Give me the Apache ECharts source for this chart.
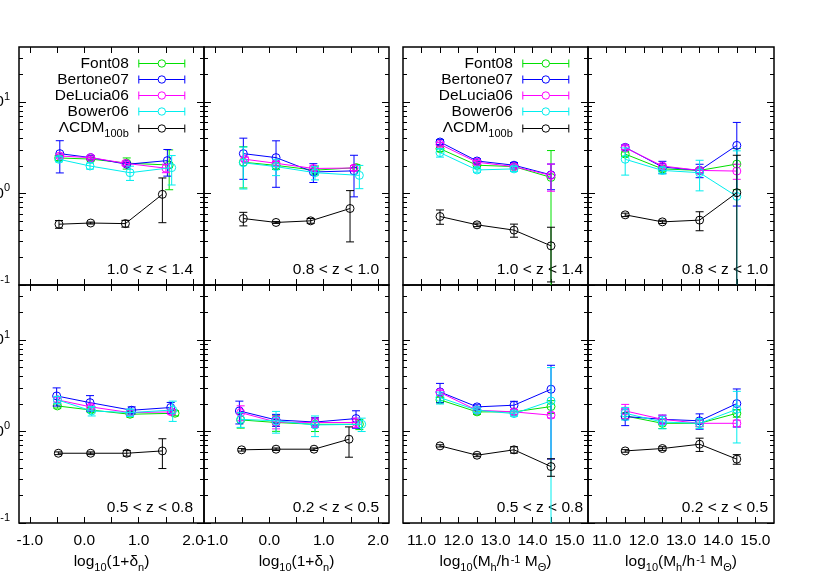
<!DOCTYPE html>
<html><head><meta charset="utf-8">
<script src="https://cdn.jsdelivr.net/npm/echarts@6/dist/echarts.min.js"></script>
<style>html,body{margin:0;padding:0;background:#fff}#c{width:817px;height:572px}</style>
</head><body><div id="c"></div>
<script>
// ---------------- data ----------------
const models = ['Font08', 'Bertone07', 'DeLucia06', 'Bower06', 'ΛCDM100b'];
const colors = ['#00e000', '#0000ff', '#ff00ff', '#00eeee', '#000000'];
const panelLabels = ['1.0 < z < 1.4', '0.8 < z < 1.0', '1.0 < z < 1.4', '0.8 < z < 1.0',
                     '0.5 < z < 0.8', '0.2 < z < 0.5', '0.5 < z < 0.8', '0.2 < z < 0.5'];
const densTicks = [-1, -0.5, 0, 0.5, 1, 1.5, 2];
const densLabels = [-1, 0, 1, 2];
const massTicks = [11, 11.5, 12, 12.5, 13, 13.5, 14, 14.5, 15];
const massLabels = [11, 12, 13, 14, 15];
const yMajor = [0.1, 1, 10];
const yMinor = [0.2, 0.3, 0.4, 0.5, 0.6, 0.7, 0.8, 0.9, 2, 3, 4, 5, 6, 7, 8, 9, 20, 30];

// each point: [x, y, dy]
// panel 1: 1.0<z<1.4, density
const p1_Font08    = [[-0.47, 2.45, 0.15], [0.117, 2.38, 0.1], [0.78, 2.15, 0.3], [1.56, 2.05, 0.95]];
const p1_Bertone07 = [[-0.45, 2.73, 1.05], [0.117, 2.47, 0.12], [0.78, 2.09, 0.1], [1.527, 2.29, 0.74]];
const p1_DeLucia06 = [[-0.45, 2.57, 0.12], [0.117, 2.47, 0.1], [0.76, 2.14, 0.12], [1.5, 1.89, 0.2]];
const p1_Bower06   = [[-0.465, 2.37, 0.15], [0.105, 2.0, 0.15], [0.84, 1.69, 0.3], [1.606, 1.92, 0.68]];
const p1_LCDM      = [[-0.465, 0.462, 0.045], [0.117, 0.476, 0.012], [0.755, 0.469, 0.04], [1.435, 0.98, 0.5]];
// panel 2: 0.8<z<1.0, density
const p2_Font08    = [[-0.477, 2.20, 1.05], [0.124, 2.03, 0.2], [0.84, 1.8, 0.2], [1.6, 1.92, 0.15]];
const p2_Bertone07 = [[-0.477, 2.73, 1.3], [0.124, 2.47, 1.3], [0.81, 1.72, 0.4], [1.557, 1.77, 0.85]];
const p2_DeLucia06 = [[-0.45, 2.37, 0.12], [0.124, 2.14, 0.1], [0.81, 1.88, 0.12], [1.557, 1.9, 0.12]];
const p2_Bower06   = [[-0.477, 2.17, 1.05], [0.124, 1.97, 0.4], [0.84, 1.69, 0.28], [1.655, 1.58, 0.45]];
const p2_LCDM      = [[-0.477, 0.533, 0.09], [0.124, 0.483, 0.012], [0.761, 0.503, 0.03], [1.484, 0.686, 0.39]];
// panel 3: 1.0<z<1.4, halo mass
const p3_Font08    = [[11.5, 3.09, 0.2], [12.5, 2.04, 0.1], [13.5, 1.97, 0.12], [14.5, 1.5, 1.45]];
const p3_Bertone07 = [[11.5, 3.66, 0.22], [12.5, 2.27, 0.12], [13.5, 2.04, 0.14], [14.5, 1.6, 0.5]];
const p3_DeLucia06 = [[11.5, 3.45, 0.15], [12.5, 2.2, 0.1], [13.5, 1.97, 0.1], [14.5, 1.58, 0.52]];
const p3_Bower06   = [[11.5, 2.80, 0.3], [12.5, 1.81, 0.1], [13.5, 1.86, 0.12]];
const p3_LCDM      = [[11.5, 0.561, 0.1], [12.5, 0.455, 0.02], [13.5, 0.398, 0.065], [14.5, 0.268, 0.16]];
// panel 4: 0.8<z<1.0, halo mass
const p4_Font08    = [[11.5, 2.70, 0.15], [12.5, 1.86, 0.1], [13.5, 1.79, 0.1], [14.5, 2.1, 1.0]];
const p4_Bertone07 = [[11.5, 3.2, 0.2], [12.5, 1.95, 0.3], [13.5, 1.79, 0.3], [14.5, 3.36, 2.63]];
const p4_DeLucia06 = [[11.5, 3.17, 0.15], [12.5, 2.0, 0.1], [13.5, 1.79, 0.1], [14.5, 1.76, 0.33]];
const p4_Bower06   = [[11.5, 2.37, 0.78], [12.5, 1.79, 0.15], [13.5, 1.69, 0.62], [14.5, 0.93, 2.0]];
const p4_LCDM      = [[11.5, 0.585, 0.025], [12.5, 0.49, 0.02], [13.5, 0.512, 0.12], [14.5, 1.02, 1.6]];
// panel 5: 0.5<z<0.8, density
const p5_Font08    = [[-0.495, 1.905, 0.1], [0.117, 1.72, 0.1], [0.84, 1.545, 0.1], [1.668, 1.585, 0.1]];
const p5_Bertone07 = [[-0.508, 2.45, 0.55], [0.105, 2.07, 0.4], [0.871, 1.71, 0.15], [1.588, 1.83, 0.25]];
const p5_DeLucia06 = [[-0.495, 2.22, 0.12], [0.117, 1.86, 0.1], [0.84, 1.61, 0.1], [1.6, 1.64, 0.1]];
const p5_Bower06   = [[-0.495, 2.22, 0.2], [0.136, 1.68, 0.2], [0.84, 1.61, 0.15], [1.625, 1.72, 0.43]];
const p5_LCDM      = [[-0.477, 0.579, 0.02], [0.117, 0.579, 0.02], [0.78, 0.579, 0.04], [1.435, 0.614, 0.22]];
// panel 6: 0.2<z<0.5, density
const p6_Font08    = [[-0.526, 1.34, 0.25], [0.124, 1.255, 0.25], [0.84, 1.2, 0.2], [1.655, 1.2, 0.15]];
const p6_Bertone07 = [[-0.55, 1.68, 0.47], [0.124, 1.34, 0.2], [0.84, 1.27, 0.15], [1.594, 1.386, 0.3]];
const p6_DeLucia06 = [[-0.526, 1.61, 0.3], [0.124, 1.27, 0.2], [0.84, 1.255, 0.15], [1.594, 1.255, 0.15]];
const p6_Bower06   = [[-0.526, 1.36, 0.25], [0.124, 1.31, 0.35], [0.84, 1.18, 0.3], [1.698, 1.2, 0.2]];
const p6_LCDM      = [[-0.508, 0.631, 0.02], [0.124, 0.641, 0.02], [0.822, 0.641, 0.02], [1.465, 0.824, 0.3]];
// panel 7: 0.5<z<0.8, halo mass
const p7_Font08    = [[11.5, 2.22, 0.15], [12.5, 1.64, 0.1], [13.5, 1.64, 0.1], [14.5, 1.875, 0.3]];
const p7_Bertone07 = [[11.5, 2.71, 0.65], [12.5, 1.86, 0.1], [13.5, 1.94, 0.2], [14.5, 2.90, 2.4]];
const p7_DeLucia06 = [[11.5, 2.67, 0.15], [12.5, 1.71, 0.1], [13.5, 1.64, 0.1], [14.5, 1.51, 0.1]];
const p7_Bower06   = [[11.5, 2.35, 0.35], [12.5, 1.71, 0.1], [13.5, 1.57, 0.1], [14.5, 2.16, 2.84]];
const p7_LCDM      = [[11.5, 0.697, 0.02], [12.5, 0.551, 0.02], [13.5, 0.631, 0.05], [14.5, 0.414, 0.09]];
// panel 8: 0.2<z<0.5, halo mass
const p8_Font08    = [[11.5, 1.48, 0.1], [12.5, 1.23, 0.15], [13.5, 1.23, 0.1], [14.5, 1.585, 0.15]];
const p8_Bertone07 = [[11.5, 1.46, 0.3], [12.5, 1.36, 0.15], [13.5, 1.31, 0.25], [14.5, 2.02, 0.9]];
const p8_DeLucia06 = [[11.5, 1.68, 0.3], [12.5, 1.36, 0.15], [13.5, 1.23, 0.1], [14.5, 1.23, 0.1]];
const p8_Bower06   = [[11.5, 1.585, 0.25], [12.5, 1.27, 0.2], [13.5, 1.23, 0.15], [14.5, 1.75, 1.0]];
const p8_LCDM      = [[11.5, 0.614, 0.02], [12.5, 0.652, 0.03], [13.5, 0.726, 0.12], [14.5, 0.499, 0.06]];

const panelData = [
  [p1_Font08, p1_Bertone07, p1_DeLucia06, p1_Bower06, p1_LCDM],
  [p2_Font08, p2_Bertone07, p2_DeLucia06, p2_Bower06, p2_LCDM],
  [p3_Font08, p3_Bertone07, p3_DeLucia06, p3_Bower06, p3_LCDM],
  [p4_Font08, p4_Bertone07, p4_DeLucia06, p4_Bower06, p4_LCDM],
  [p5_Font08, p5_Bertone07, p5_DeLucia06, p5_Bower06, p5_LCDM],
  [p6_Font08, p6_Bertone07, p6_DeLucia06, p6_Bower06, p6_LCDM],
  [p7_Font08, p7_Bertone07, p7_DeLucia06, p7_Bower06, p7_LCDM],
  [p8_Font08, p8_Bertone07, p8_DeLucia06, p8_Bower06, p8_LCDM]
];

// ---------------- layout ----------------
const W = 817;
const FONT = "'Liberation Sans', Arial, Helvetica, sans-serif";
const FS = 15.5;
const layout = [
  {l: 19,  t: 47,  w: 185, h: 238, kind: 'd', yl: true,  xl: false, leg: true,  inset: 11},
  {l: 204, t: 47,  w: 185, h: 238, kind: 'd', yl: false, xl: false, leg: false, inset: 10},
  {l: 403, t: 47,  w: 185, h: 238, kind: 'm', yl: false, xl: false, leg: true,  inset: 5},
  {l: 588, t: 47,  w: 186, h: 238, kind: 'm', yl: false, xl: false, leg: false, inset: 6},
  {l: 19,  t: 285, w: 185, h: 238, kind: 'd', yl: true,  xl: true,  leg: false, inset: 11},
  {l: 204, t: 285, w: 185, h: 238, kind: 'd', yl: false, xl: true,  leg: false, inset: 10},
  {l: 403, t: 285, w: 185, h: 238, kind: 'm', yl: false, xl: true,  leg: false, inset: 5},
  {l: 588, t: 285, w: 186, h: 238, kind: 'm', yl: false, xl: true,  leg: false, inset: 6}
];
const densName = '{a|log}{s|10}{a|(1+δ}{s|n}{a|)}';
const massName = '{a|log}{s|10}{a|(M}{s|h}{a|/h}{p|-1}{a| M}{s|Θ}{a|)}';
const nameRich = {
  a: {fontSize: FS, fontFamily: FONT, color: '#000', lineHeight: 18, verticalAlign: 'top'},
  s: {fontSize: 11, fontFamily: FONT, color: '#000', lineHeight: 11, verticalAlign: 'top', padding: [8, 0, 0, 0]},
  p: {fontSize: 11, fontFamily: FONT, color: '#000', lineHeight: 11, verticalAlign: 'top', padding: [0, 0, 0, 1]}
};
const yRich = {
  b: {fontSize: FS, fontFamily: FONT, color: '#000', lineHeight: 22},
  s: {fontSize: 11, fontFamily: FONT, color: '#000', lineHeight: 11, verticalAlign: 'top'}
};
function yFmt(v) {
  if (v > 5) return '{b|10}{s|1}';
  if (v > 0.5) return '{b|10}{s|0}';
  return '{b|10}{s|-1}';
}

const grids = [], xAxes = [], yAxes = [], series = [], legends = [], graphics = [];

layout.forEach((p, i) => {
  grids.push({left: p.l, top: p.t, width: p.w, height: p.h, show: true, borderColor: '#000',
              borderWidth: 1.5, backgroundColor: 'transparent', containLabel: false, outerBoundsMode: 'none'});
  const isD = p.kind === 'd';
  ['bottom', 'top'].forEach(pos => {
    const showLab = pos === 'bottom' && p.xl;
    xAxes.push({
      type: 'value', gridIndex: i, position: pos,
      min: isD ? -1.2 : 10.5, max: isD ? 2.2 : 15.5,
      axisLine: {show: false, onZero: false}, splitLine: {show: false},
      axisTick: {show: true, inside: true, length: 6, customValues: isD ? densTicks : massTicks,
                 lineStyle: {color: '#000', width: 1}},
      axisLabel: {show: showLab, customValues: isD ? densLabels : massLabels,
                  formatter: v => v.toFixed(1), margin: 10, fontSize: FS, fontFamily: FONT, color: '#000'},
      name: showLab ? (isD ? densName : massName) : '',
      nameLocation: 'middle', nameGap: 31,
      nameTextStyle: {rich: nameRich, fontSize: FS, fontFamily: FONT, color: '#000'}
    });
  });
  [['left', true], ['left', false], ['right', true], ['right', false]].forEach(([pos, major]) => {
    yAxes.push({
      type: 'log', logBase: 10, gridIndex: i, position: pos, min: 0.1, max: 40,
      axisLine: {show: false, onZero: false}, splitLine: {show: false}, minorTick: {show: false},
      axisTick: {show: true, inside: true, length: major ? 7 : 4, customValues: major ? yMajor : yMinor,
                 lineStyle: {color: '#000', width: 1}},
      axisLabel: {show: major && pos === 'left' && p.yl, customValues: yMajor, formatter: yFmt,
                  margin: 9, rich: yRich, fontSize: FS, fontFamily: FONT, color: '#000'}
    });
  });

  panelData[i].forEach((pts, m) => {
    const col = colors[m];
    series.push({
      type: 'line', name: models[m], xAxisIndex: 2 * i, yAxisIndex: 4 * i,
      data: pts.map(d => [d[0], d[1]]), symbol: 'none', showSymbol: false, color: col,
      lineStyle: {color: col, width: 1}, itemStyle: {color: col, borderColor: col}, silent: true, z: 2 + m
    });
    series.push({
      type: 'custom', name: models[m], xAxisIndex: 2 * i, yAxisIndex: 4 * i,
      data: pts, encode: {x: 0, y: 1}, silent: true, z: 2 + m, color: col,
      renderItem: function (params, api) {
        const x = api.value(0), y = api.value(1), dy = api.value(2);
        const cs = params.coordSys;
        const top = cs.y, bot = cs.y + cs.height;
        const c = api.coord([x, y]);
        let yh = api.coord([x, y + dy])[1];
        let yl = (y - dy) > 0 ? api.coord([x, y - dy])[1] : Infinity;
        const capHi = yh >= top, capLo = yl <= bot;
        yh = Math.max(yh, top); yl = Math.min(yl, bot);
        const st = () => ({stroke: col, lineWidth: 1, fill: null});
        const ch = [{type: 'line', shape: {x1: c[0], y1: yh, x2: c[0], y2: yl}, style: st()}];
        if (capHi) ch.push({type: 'line', shape: {x1: c[0] - 4, y1: yh, x2: c[0] + 4, y2: yh}, style: st()});
        if (capLo) ch.push({type: 'line', shape: {x1: c[0] - 4, y1: yl, x2: c[0] + 4, y2: yl}, style: st()});
        ch.push({type: 'circle', shape: {cx: c[0], cy: c[1], r: 4}, style: {stroke: col, lineWidth: 1, fill: 'none'}});
        return {type: 'group', children: ch};
      }
    });
  });

  if (p.leg) {
    models.forEach((m, k) => {
      legends.push({
        data: [m], orient: 'horizontal', align: 'right', right: W - (p.l + 166.3),
        top: p.t + 8.5 + 16 * k, padding: 0, itemGap: 0, itemWidth: 46, itemHeight: 8,
        icon: 'path://M0 0L0 8M46 0L46 8M0 4L19.3 4M26.7 4L46 4M26.7 4A3.7 3.7 0 1 1 19.3 4A3.7 3.7 0 1 1 26.7 4',
        selectedMode: false,
        itemStyle: {color: 'rgba(0,0,0,0)', borderColor: colors[k], borderWidth: 1},
        formatter: n => n === 'ΛCDM100b' ? '{m|ΛCDM}{s|100b}' : n,
        textStyle: {fontSize: FS, fontFamily: FONT, color: '#000', padding: [0, 5, 0, 0],
                    rich: {
                      m: {fontSize: FS, fontFamily: FONT, color: '#000', lineHeight: 18, verticalAlign: 'top'},
                      s: {fontSize: 11, fontFamily: FONT, color: '#000', lineHeight: 11, verticalAlign: 'top', padding: [9, 0, 0, 0]}
                    }}
      });
    });
  }

  graphics.push({
    type: 'text', x: p.l + p.w - p.inset, y: p.t + p.h - 15, silent: true,
    style: {text: panelLabels[i], fontSize: FS, fontFamily: FONT, fill: '#000', align: 'right', verticalAlign: 'middle'}
  });
});

const chart = echarts.init(document.getElementById('c'), null, {renderer: 'canvas'});
chart.setOption({
  animation: false,
  backgroundColor: '#fff',
  grid: grids, xAxis: xAxes, yAxis: yAxes, series: series, legend: legends, graphic: graphics
});
</script>
</body></html>
